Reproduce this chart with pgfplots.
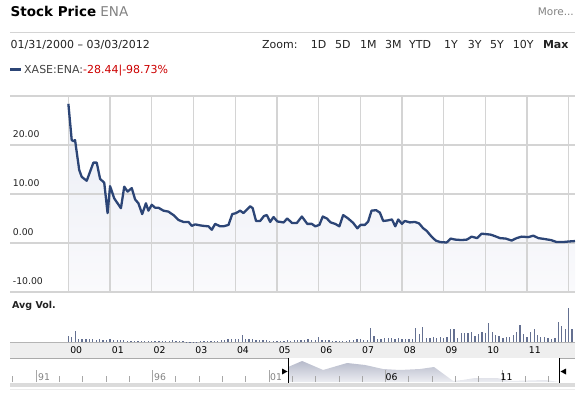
\documentclass[border=0pt]{standalone}
\usepackage{pgfplots}
\pgfplotsset{compat=1.18}
\usepackage{fontspec}
\setmainfont{DejaVu Sans}
\definecolor{navy}{RGB}{44,69,118}
\definecolor{gridc}{RGB}{212,212,212}
\definecolor{redc}{RGB}{204,0,0}
\definecolor{bandc}{RGB}{238,238,238}
\definecolor{volc}{RGB}{100,112,145}
\definecolor{txtc}{RGB}{34,34,34}
\definecolor{grayt}{RGB}{130,130,130}
\definecolor{fillA}{RGB}{234,237,245}
\definecolor{fillB}{RGB}{250,250,252}
\definecolor{mntA}{RGB}{182,186,202}
\definecolor{mntB}{RGB}{236,237,242}
\pgfplotstableread{
x y
2000.00 28.4
2000.08 21.0
2000.12 20.8
2000.16 21.0
2000.26 14.9
2000.32 13.5
2000.44 12.7
2000.60 16.4
2000.68 16.4
2000.76 13.1
2000.86 12.3
2000.94 6.1
2001.00 11.6
2001.10 9.1
2001.26 7.1
2001.34 11.5
2001.42 10.5
2001.52 11.2
2001.60 8.9
2001.68 8.1
2001.77 5.9
2001.86 8.1
2001.92 6.6
2002.00 7.8
2002.08 7.2
2002.16 7.2
2002.28 6.6
2002.40 6.4
2002.52 5.7
2002.64 4.7
2002.76 4.3
2002.88 4.3
2002.96 3.5
2003.04 3.8
2003.16 3.6
2003.24 3.5
2003.36 3.4
2003.44 2.7
2003.52 3.9
2003.64 3.4
2003.72 3.4
2003.84 3.7
2003.93 5.9
2004.02 6.1
2004.12 6.6
2004.20 6.1
2004.36 7.5
2004.42 7.1
2004.50 4.5
2004.60 4.5
2004.69 5.5
2004.76 5.7
2004.84 4.3
2004.92 5.3
2005.01 4.4
2005.16 4.2
2005.25 5.0
2005.36 4.1
2005.48 4.1
2005.60 5.4
2005.73 3.9
2005.84 3.9
2005.92 3.4
2006.02 3.7
2006.10 5.4
2006.20 5.0
2006.29 4.2
2006.40 3.9
2006.50 3.4
2006.59 5.7
2006.71 5.0
2006.83 4.1
2006.93 3.0
2007.01 3.7
2007.11 3.7
2007.19 4.4
2007.27 6.6
2007.38 6.7
2007.47 6.2
2007.55 4.5
2007.65 4.6
2007.76 4.8
2007.84 3.4
2007.91 4.8
2008.00 3.9
2008.07 4.5
2008.19 4.2
2008.31 4.3
2008.41 4.0
2008.51 3.0
2008.59 2.5
2008.71 1.3
2008.81 0.5
2008.91 0.2
2009.07 0.1
2009.17 0.9
2009.27 0.7
2009.43 0.6
2009.56 0.7
2009.67 1.3
2009.80 1.0
2009.91 1.9
2010.03 1.8
2010.13 1.7
2010.23 1.4
2010.35 1.0
2010.49 0.9
2010.63 0.5
2010.75 1.0
2010.87 1.3
2011.03 1.2
2011.15 1.5
2011.27 1.0
2011.43 0.8
2011.57 0.6
2011.71 0.2
2011.87 0.2
2011.99 0.3
2012.15 0.4
}\price
\pgfplotstableread{
x h
2001.815 0
2001.82 15
2002.42 21
2003.32 12
2004.35 19
2005.12 17
2005.89 13
2006.62 12
2007.48 13
2008.08 15
2008.55 7
2008.90 1
2009.30 2
2009.84 4
2010.79 4
2011.35 1
2012.85 2
2013.45 0
}\nav
\begin{document}
\begin{tikzpicture}[x=1bp,y=1bp]
\path[use as bounding box] (0,0) rectangle (580,397);
% header
\node[anchor=base west,inner sep=0pt,font=\fontsize{13.5bp}{16bp}\selectfont] at (10.5,380.3) {\textbf{Stock Price} \textcolor{grayt}{ENA}};
\node[anchor=base east,inner sep=0pt,font=\fontsize{10.5bp}{12bp}\selectfont,text=grayt] at (574,382) {More...};
\draw[color=gridc,line width=1bp] (10,365) -- (575,365);
\begin{scope}[every node/.style={anchor=base west,inner sep=0pt,font=\fontsize{11bp}{13bp}\selectfont,text=txtc}]
\node at (10.5,349) {01/31/2000 -- 03/03/2012};
\node at (262,349) {Zoom:};
\node at (310.7,349) {1D};
\node at (335,349) {5D};
\node at (360,349) {1M};
\node at (385,349) {3M};
\node at (409,349) {YTD};
\node at (444,349) {1Y};
\node at (467.7,349) {3Y};
\node at (490,349) {5Y};
\node at (512.7,349) {10Y};
\node[anchor=base east] at (568.7,349) {\textbf{Max}};
\node at (24,323.5) {\textcolor{txtc!85!white}{XASE:ENA:}\textcolor{redc}{-28.44|-98.73\%}};
\end{scope}
\draw[navy,line width=3bp] (10,327.5) -- (21,327.5);
% main price axis
\begin{axis}[
  at={(10bp,105bp)}, anchor=south west,
  width=565bp, height=196bp, scale only axis,
  xmin=1998.60, xmax=2012.15, ymin=-10, ymax=30,
  axis line style={draw=none},
  major tick length=0pt,
  xtick={2000,2001,...,2012}, xticklabels={},
  ytick={-10,0,10,20}, yticklabels={-10.00,0.00,10.00,20.00},
  yticklabel style={anchor=base west,inner sep=0pt,xshift=2.7bp,yshift=7.8bp,font=\fontsize{9.3bp}{11bp}\selectfont,text=txtc},
]
\addplot[top color=fillA, bottom color=fillB, draw=none, forget plot] table[x=x,y=y] {\price} -- (axis cs:2012.15,-10) -- (axis cs:2000,-10) -- cycle;
\pgfplotsextra{%
  \foreach \g in {2000,2001,...,2012}{\draw[color=gridc,line width=1.3bp] (axis cs:\g,-10) -- (axis cs:\g,30);}
  \foreach \h in {-10,0,10,20,30}{\draw[color=gridc,line width=1.3bp] (axis cs:1998.6,\h) -- (axis cs:2012.15,\h);}
}
\addplot[color=navy, line width=2.3bp, line join=round] table[x=x,y=y] {\price};
\end{axis}
% band under volume
\fill[bandc] (10,39) rectangle (575,55);
\draw[color=gridc!85!black,line width=0.8bp] (10,55) -- (575,55);
\node[anchor=base west,inner sep=0pt,font=\bfseries\fontsize{9.5bp}{11bp}\selectfont,text=txtc] at (12,89) {Avg Vol.};
% volume axis
\begin{axis}[
  at={(10bp,55bp)}, anchor=south west,
  width=565bp, height=40bp, scale only axis,
  xmin=1998.60, xmax=2012.15, ymin=0, ymax=40,
  axis line style={draw=none},
  major tick length=0pt,
  ytick=\empty,
  xtick={2000,2001,...,2011},
  xticklabels={00,01,02,03,04,05,06,07,08,09,10,11},
  xticklabel style={anchor=base west,inner sep=0pt,xshift=1.7bp,yshift=-11.5bp,font=\fontsize{9.3bp}{11bp}\selectfont,text=black},
  clip=false,
]
\addplot[ycomb, color=volc, line width=1.3bp] coordinates {
(2000.00,6)(2000.08,5)(2000.17,11)(2000.25,3)(2000.33,3)(2000.42,3)(2000.50,3)(2000.58,3)(2000.67,2)(2000.75,3)(2000.83,2)(2000.92,2)
(2001.00,3)(2001.08,2)(2001.17,2)(2001.25,2)(2001.33,2)(2001.42,1)(2001.50,1)(2001.58,1)(2001.67,1)(2001.75,1)(2001.83,1)(2001.92,1)
(2002.00,1)(2002.08,1)(2002.17,1)(2002.25,1)(2002.33,1)(2002.42,1)(2002.50,2)(2002.58,1)(2002.67,1)(2002.75,1)(2002.83,0.5)(2002.92,0.5)
(2003.00,0.5)(2003.08,0.5)(2003.17,1)(2003.25,1)(2003.33,1)(2003.42,1)(2003.50,1)(2003.58,1)(2003.67,2)(2003.75,2)(2003.83,3)(2003.92,3)
(2004.00,3)(2004.08,3)(2004.17,7)(2004.25,3)(2004.33,3)(2004.42,3)(2004.50,2)(2004.58,2)(2004.67,2)(2004.75,2)(2004.83,1)(2004.92,1)
(2005.00,1)(2005.08,1)(2005.17,1)(2005.25,2)(2005.33,1)(2005.42,2)(2005.50,2)(2005.58,2)(2005.67,2)(2005.75,3)(2005.83,2)(2005.92,2)
(2006.00,5)(2006.08,2)(2006.17,2)(2006.25,2)(2006.33,1)(2006.42,1)(2006.50,1)(2006.58,1)(2006.67,1)(2006.75,2)(2006.83,2)(2006.92,3)
(2007.00,3)(2007.08,2)(2007.17,2)(2007.25,14)(2007.33,6)(2007.42,3)(2007.50,3)(2007.58,4)(2007.67,4)(2007.75,4)(2007.83,3)(2007.92,4)
(2008.00,3)(2008.08,3)(2008.17,3)(2008.25,3)(2008.33,14)(2008.42,8)(2008.50,15)(2008.58,4)(2008.67,4)(2008.75,5)(2008.83,4)(2008.92,5)
(2009.00,4)(2009.08,5)(2009.17,13)(2009.25,13)(2009.33,4)(2009.42,9)(2009.50,9)(2009.58,9)(2009.67,10)(2009.75,6)(2009.83,8)(2009.92,10)
(2010.00,9)(2010.08,19)(2010.17,10)(2010.25,7)(2010.33,6)(2010.42,4)(2010.50,5)(2010.58,5)(2010.67,7)(2010.75,10)(2010.83,17)(2010.92,8)
(2011.00,5)(2011.08,10)(2011.17,13)(2011.25,7)(2011.33,5)(2011.42,5)(2011.50,4)(2011.58,3)(2011.67,4)(2011.75,20)(2011.83,16)(2011.92,13)
(2012.00,34)(2012.08,13)
};
\end{axis}
% navigator
\draw[color=gridc!80!black,line width=0.8bp] (10,39) -- (288,39);
\draw[color=gridc!80!black,line width=0.8bp] (559,39) -- (575,39);
\begin{axis}[
  at={(10bp,15bp)}, anchor=south west,
  width=565bp, height=24bp, scale only axis,
  xmin=1989.884, xmax=2014.13, ymin=0, ymax=24,
  axis line style={draw=none},
  axis on top,
  ytick=\empty,
  xtick={1990,1991,...,2013}, xticklabels={},
  xtick pos=bottom, tick align=inside,
  major tick length=6bp,
  tick style={color=grayt!70!white,line width=0.8bp},
  extra x ticks={1991,1996,2001,2006,2011}, extra x tick labels={},
  extra x tick style={major tick length=12bp},
  clip=false,
]
\addplot[draw=none, top color=mntA, bottom color=mntB] table[x=x,y=h] {\nav} \closedcycle;
\end{axis}
\begin{scope}[every node/.style={anchor=base west,inner sep=0pt,font=\fontsize{9.3bp}{11bp}\selectfont}]
\node[text=grayt] at (38,16.5) {91};
\node[text=grayt] at (154,16.5) {96};
\node[text=grayt] at (270,16.5) {01};
\node[text=black] at (385.5,16.5) {06};
\node[text=black] at (500.5,16.5) {11};
\end{scope}
\fill[gray!28] (10,10) rectangle (575,14.5);
\draw[gray!15,line width=1bp] (10,8) -- (575,8);
\draw[black,line width=1bp] (288,39) -- (288,14);
\fill[black] (282,28.5) -- (282,22.5) -- (287.5,25.5) -- cycle;
\draw[black,line width=1bp] (559,39) -- (559,14);
\fill[black] (560.5,25.5) -- (566,28.5) -- (566,22.5) -- cycle;
\end{tikzpicture}
\end{document}
